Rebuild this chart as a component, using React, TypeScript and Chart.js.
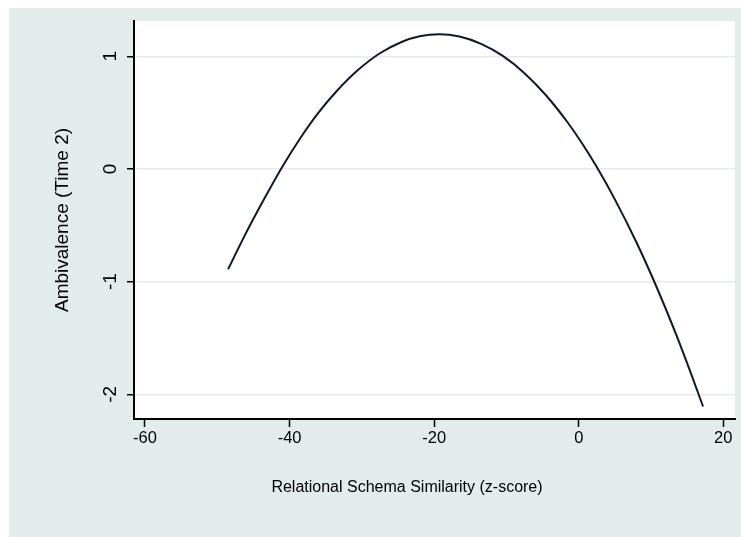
import React, { useEffect, useRef } from "react";
import { Chart, registerables } from "chart.js";

Chart.register(...registerables);

// Curve (x = schema similarity z-score, y = ambivalence)
const xValues = [
  -48.5, -46, -43.5, -41, -38.5, -36, -33.5, -30.5, -27.5, -24.5, -22, -19.3,
  -16.5, -13.5, -10.5, -7.5, -4.5, -1.5, 0.5, 2.5, 5, 8, 10.8, 13.5, 15.5, 17.2,
];
const yValues = [
  -0.89, -0.565, -0.265, 0.02, 0.275, 0.5, 0.69, 0.88, 1.027, 1.127, 1.177, 1.195,
  1.175, 1.11, 1.003, 0.85, 0.652, 0.41, 0.223, 0.017, -0.27, -0.653, -1.052, -1.473,
  -1.81, -2.108,
];

const xTicks = [-60, -40, -20, 0, 20];
const yTicks = [-2, -1, 0, 1];
const xTitle = "Relational Schema Similarity (z-score)";
const yTitle = "Ambivalence (Time 2)";

const FONT = "'Liberation Sans', Arial, Helvetica, sans-serif";
const OUTER_BG = "#E2ECEB";
const GRID = "#E4ECEC";
const LINE = "#0c1a2c";

export default function App() {
  const ref = useRef<HTMLCanvasElement | null>(null);

  useEffect(() => {
    if (!ref.current) return;

    const bgPlugin = {
      id: "bgPlugin",
      beforeDraw(chart: any) {
        const { ctx, chartArea } = chart;
        ctx.save();
        ctx.fillStyle = "#ffffff";
        ctx.fillRect(0, 0, chart.width, chart.height);
        ctx.fillStyle = OUTER_BG;
        ctx.fillRect(9, 8, chart.width - 9, chart.height - 8);
        ctx.fillStyle = "#ffffff";
        ctx.fillRect(
          chartArea.left,
          chartArea.top,
          chartArea.right - chartArea.left,
          chartArea.bottom - chartArea.top
        );
        ctx.restore();
      },
    };

    const textPlugin = {
      id: "textPlugin",
      afterDraw(chart: any) {
        const { ctx } = chart;
        const ys = chart.scales.y;
        ctx.save();
        ctx.fillStyle = "#000";
        ctx.font = `19px ${FONT}`;
        ctx.textAlign = "center";
        ctx.textBaseline = "middle";
        yTicks.forEach((v) => {
          const py = ys.getPixelForValue(v);
          ctx.save();
          ctx.translate(111, py);
          ctx.rotate(-Math.PI / 2);
          ctx.fillText(String(v), 0, 0);
          ctx.restore();
        });
        // x-axis title (centred as in the reference)
        ctx.font = `16px ${FONT}`;
        ctx.fillText(xTitle, 407, 488);
        ctx.restore();
      },
    };

    const chart = new Chart(ref.current, {
      type: "line",
      data: {
        datasets: [
          {
            data: xValues.map((x, i) => ({ x, y: yValues[i] })),
            borderColor: LINE,
            borderWidth: 2,
            pointRadius: 0,
            fill: false,
            cubicInterpolationMode: "monotone",
          },
        ],
      },
      options: {
        responsive: false,
        animation: false,
        layout: { padding: { top: 21, right: 6, left: 0, bottom: 0 } },
        plugins: {
          legend: { display: false },
          tooltip: { enabled: false },
        },
        scales: {
          x: {
            type: "linear",
            min: -61.52,
            max: 21.62,
            afterBuildTicks: (s: any) => {
              s.ticks = xTicks.map((v) => ({ value: v }));
            },
            afterFit: (s: any) => {
              s.height = 118;
            },
            grid: {
              drawOnChartArea: false,
              drawTicks: true,
              tickLength: 8,
              tickColor: "#000",
              tickWidth: 1.5,
            },
            border: { display: true, color: "#000", width: 2 },
            ticks: {
              color: "#000",
              font: { family: FONT, size: 16.5 },
              padding: 2,
              maxRotation: 0,
              minRotation: 0,
              autoSkip: false,
              callback: (v: any) => String(v),
            },
            title: { display: false },
          },
          y: {
            type: "linear",
            min: -2.219,
            max: 1.313,
            afterBuildTicks: (s: any) => {
              s.ticks = yTicks.map((v) => ({ value: v }));
            },
            afterFit: (s: any) => {
              s.width = 134;
            },
            grid: {
              color: GRID,
              lineWidth: 1.5,
              drawTicks: true,
              tickLength: 7,
              tickColor: "#000",
              tickWidth: 1.5,
            },
            border: { display: true, color: "#000", width: 2 },
            ticks: { display: false },
            title: {
              display: true,
              text: yTitle,
              color: "#000",
              font: { family: FONT, size: 19 },
              padding: { top: 51, bottom: 0 },
            },
          },
        },
      },
      plugins: [bgPlugin, textPlugin],
    } as any);

    return () => chart.destroy();
  }, []);

  return (
    <div style={{ position: "absolute", left: 0, top: 0, width: 741, height: 537 }}>
      <canvas ref={ref} width={741} height={537} />
    </div>
  );
}
